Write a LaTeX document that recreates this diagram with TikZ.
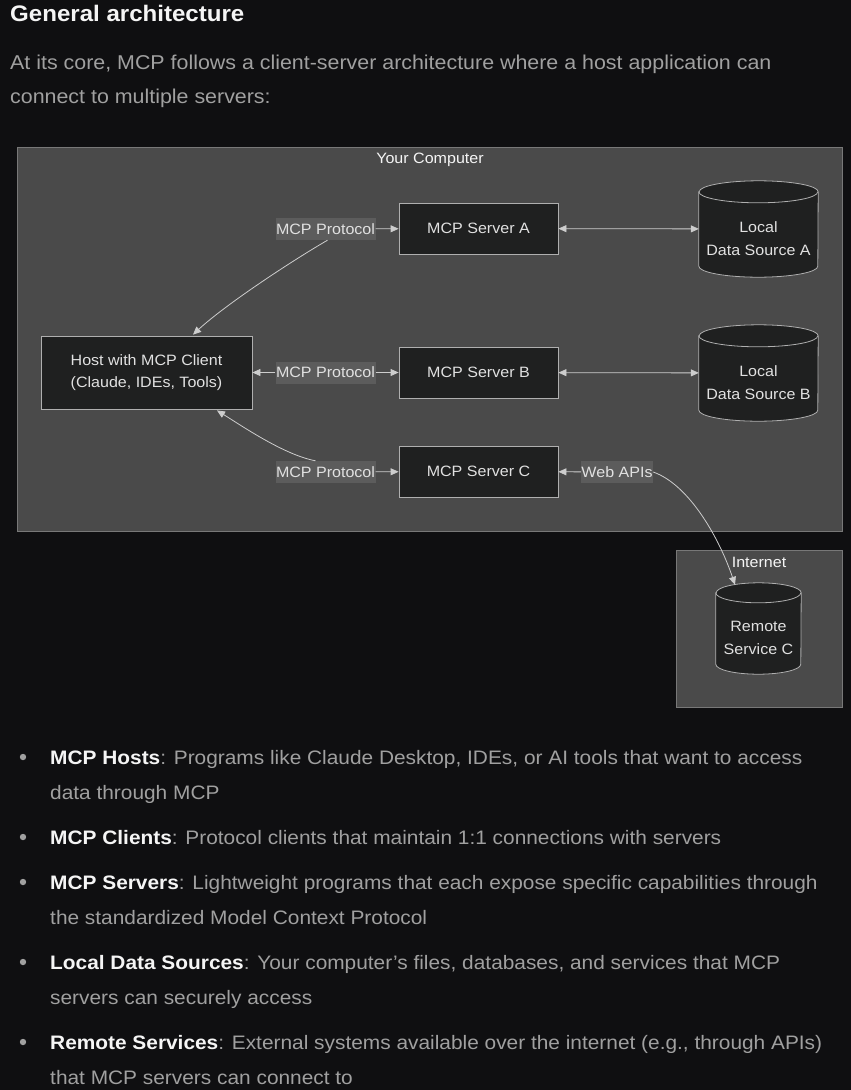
\documentclass[tikz,border=0pt]{standalone}
\usepackage{fontspec}
\setmainfont{Liberation Sans}[FakeStretch=1.07]
\usetikzlibrary{arrows.meta,calc}
\definecolor{pagebg}{RGB}{15,15,17}
\definecolor{titlec}{RGB}{245,245,245}
\definecolor{bodyc}{RGB}{160,160,160}
\definecolor{boldc}{RGB}{245,245,245}
\definecolor{groupfill}{RGB}{74,74,74}
\definecolor{groupline}{RGB}{120,120,120}
\definecolor{nodefill}{RGB}{31,32,32}
\definecolor{nodeline}{RGB}{175,175,175}
\definecolor{labelbg}{RGB}{92,92,92}
\definecolor{labeltext}{RGB}{225,225,225}
\definecolor{edgec}{RGB}{205,205,205}
\definecolor{nodetext}{RGB}{225,225,225}
\newcommand\drawcyl[2]{%
  \path[fill=nodefill,draw=nodeline,line width=0.8pt]
    ($(#1.north west)+(0,#2)$) -- ($(#1.south west)+(0,-#2)$)
    arc[start angle=180,end angle=360,x radius={\cylrx},y radius=#2pt]
    -- ($(#1.north east)+(0,#2)$)
    arc[start angle=0,end angle=180,x radius={\cylrx},y radius=#2pt] -- cycle;
  \draw[draw=nodeline,line width=0.8pt] ($(#1.north west)+(0,#2)$)
    arc[start angle=180,end angle=360,x radius={\cylrx},y radius=#2pt];
}
\begin{document}
\begin{tikzpicture}[x=1pt,y=-1pt,
  every node/.style={inner sep=0pt},
  bodytext/.style={anchor=base west,text=bodyc,font=\fontsize{19.5}{23}\selectfont},
  paratext/.style={anchor=base west,text=bodyc,font=\fontsize{20}{23}\selectfont},
  group/.style={fill=groupfill,draw=groupline,line width=0.8pt},
  grouplabel/.style={text=titlec,font=\fontsize{15}{18}\selectfont},
  server/.style={fill=nodefill,draw=nodeline,line width=0.8pt,minimum width=159pt,minimum height=51pt,text=nodetext,font=\fontsize{15}{18}\selectfont},
  hostbox/.style={fill=nodefill,draw=nodeline,line width=0.8pt,minimum width=211pt,minimum height=73pt,text=nodetext,align=center,font=\fontsize{15}{22.5}\selectfont},
  cylframe/.style={minimum width=#1,minimum height=96pt},
  cyltext/.style={text=nodetext,align=center,font=\fontsize{15}{22.5}\selectfont},
  elabel/.style={fill=labelbg,text=labeltext,inner xsep=0.5pt,minimum height=22pt,font=\fontsize{15}{18}\selectfont},
  edge/.style={draw=edgec,line width=0.8pt,-{Triangle[length=8pt,width=7pt]}},
  edge2/.style={draw=edgec,line width=0.8pt,{Triangle[length=8pt,width=7pt]}-{Triangle[length=8pt,width=7pt]}}
]
\useasboundingbox (0,0) rectangle (851,1090);
\fill[pagebg] (0,0) rectangle (851,1090);

% heading and intro
\node[anchor=base west,text=titlec,font=\fontsize{22.5}{26}\selectfont\bfseries] (title) at (10,21) {General architecture};
\node[paratext] (p1) at (10,69) {At its core, MCP follows a client-server architecture where a host application can};
\node[paratext] (p2) at (10,103) {connect to multiple servers:};

% groups
\draw[group] (17,147) rectangle (842,531);
\node[grouplabel] (yc) at (430,159.5) {Your Computer};
\draw[group] (676,550) rectangle (842,707);
\node[grouplabel] (inet) at (759,562.5) {Internet};

% nodes
\node[hostbox] (host) at (146.5,372.5) {Host with MCP Client\\(Claude, IDEs, Tools)};
\node[server] (sA) at (478.5,228.5) {MCP Server A};
\node[server] (sB) at (478.5,372.5) {MCP Server B};
\node[server] (sC) at (478.5,471.5) {MCP Server C};

\def\cylrx{59.5pt}
\node[cylframe=119pt] (dA) at (758.5,229) {};
\drawcyl{dA}{11}
\node[cyltext] (dAt) at (758.5,238.5) {Local\\Data Source A};
\node[cylframe=119pt] (dB) at (758.5,373) {};
\drawcyl{dB}{11}
\node[cyltext] (dBt) at (758.5,382.5) {Local\\Data Source B};
\def\cylrx{42.5pt}
\node[cylframe=85pt,minimum height=91pt] (rC) at (758.5,628.5) {};
\drawcyl{rC}{10}
\node[cyltext] (rCt) at (758.5,638) {Remote\\Service C};

% edge labels
\node[elabel] (lA) at (325.5,229) {MCP Protocol};
\node[elabel] (lB) at (325.5,372.5) {MCP Protocol};
\node[elabel] (lC) at (325.5,472) {MCP Protocol};
\node[elabel] (lW) at (617,472) {Web APIs};

% connectors
\draw[edge] (lA) -- (sA);
\draw[edge] ($(lA.south)+(2,0)$) .. controls (290,262) and (225,305) .. ($(host.north)+(46.5,-1)$);
\draw[edge] (lB) -- (host);
\draw[edge] (lB) -- (sB);
\draw[edge] (lC) -- (sC);
\draw[edge] ($(lC.north)+(-10,0)$) .. controls (285,455) and (245,428) .. ($(host.south)+(70.5,1)$);
\draw[edge] (lW) -- (sC);
\draw[edge] (lW.east) .. controls (690,485) and (720,540) .. ($(rC.north)+(-23.5,2)$);
\draw[edge2] (sA) -- (dA);
\draw[edge2] (sB) -- (dB);

% bullet list
\foreach \y in {757,837,882,962,1042} \fill[bodyc] (23,\y) circle (3.2pt);
\node[bodytext] (b1a) at (50,764) {\textcolor{boldc}{\bfseries MCP Hosts}: Programs like Claude Desktop, IDEs, or AI tools that want to access};
\node[bodytext] (b1b) at (50,799) {data through MCP};
\node[bodytext] (b2a) at (50,844) {\textcolor{boldc}{\bfseries MCP Clients}: Protocol clients that maintain 1:1 connections with servers};
\node[bodytext] (b3a) at (50,889) {\textcolor{boldc}{\bfseries MCP Servers}: Lightweight programs that each expose specific capabilities through};
\node[bodytext] (b3b) at (50,924) {the standardized Model Context Protocol};
\node[bodytext] (b4a) at (50,969) {\textcolor{boldc}{\bfseries Local Data Sources}: Your computer’s files, databases, and services that MCP};
\node[bodytext] (b4b) at (50,1004) {servers can securely access};
\node[bodytext] (b5a) at (50,1049) {\textcolor{boldc}{\bfseries Remote Services}: External systems available over the internet (e.g., through APIs)};
\node[bodytext] (b5b) at (50,1084) {that MCP servers can connect to};
\end{tikzpicture}
\end{document}
